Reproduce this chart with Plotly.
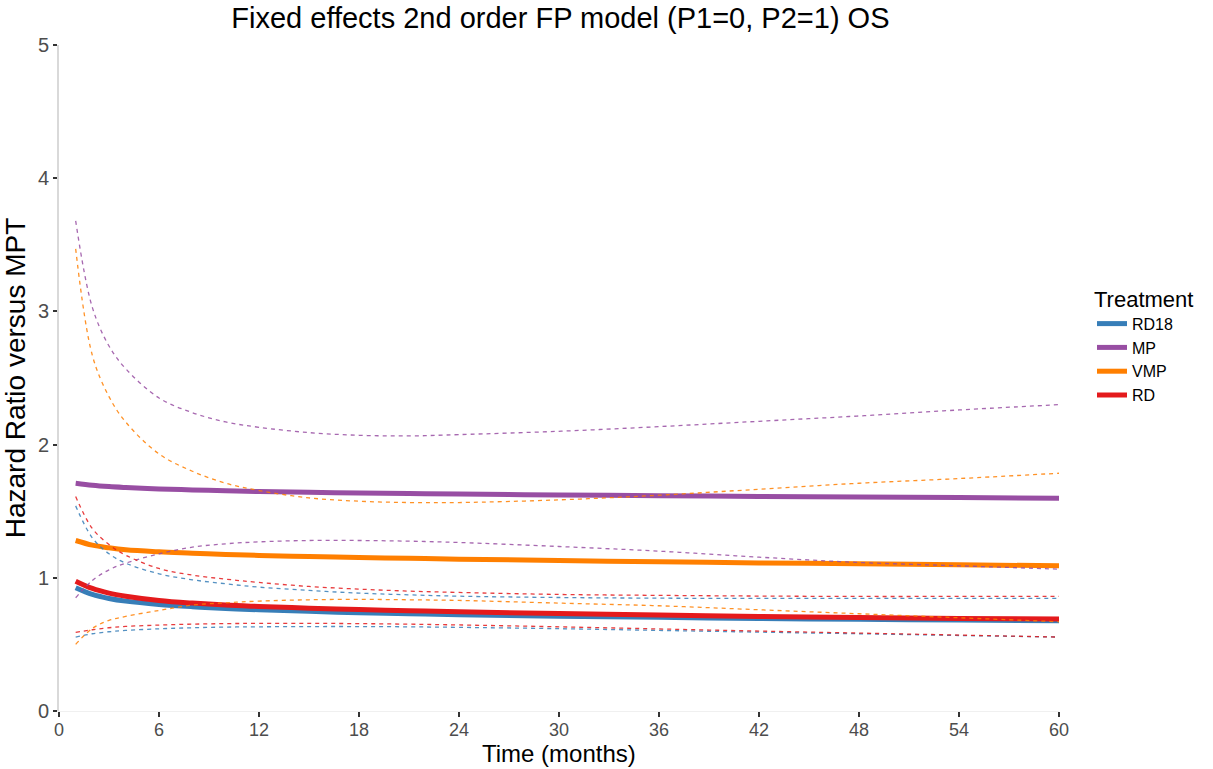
import plotly.graph_objects as go

# Follow-up times (months) at which the fitted hazard ratios are evaluated
months = [1, 2, 3, 4, 6, 8, 10, 12, 15, 18, 21, 24, 30, 36, 42, 48, 54, 60]

# Point estimates (HR versus MPT)
rd18_hr = [0.925, 0.875, 0.845, 0.825, 0.800, 0.783, 0.770, 0.760, 0.748, 0.738,
           0.730, 0.723, 0.712, 0.703, 0.695, 0.688, 0.683, 0.678]
mp_hr = [1.710, 1.695, 1.685, 1.678, 1.667, 1.660, 1.653, 1.648, 1.642, 1.637,
         1.633, 1.629, 1.622, 1.616, 1.611, 1.606, 1.602, 1.598]
vmp_hr = [1.280, 1.245, 1.225, 1.210, 1.195, 1.185, 1.175, 1.168, 1.160, 1.152,
          1.146, 1.140, 1.130, 1.120, 1.112, 1.105, 1.098, 1.090]
rd_hr = [0.975, 0.920, 0.885, 0.862, 0.830, 0.810, 0.795, 0.785, 0.772, 0.762,
         0.753, 0.745, 0.732, 0.720, 0.710, 0.702, 0.695, 0.690]

# 95% credible interval bounds
rd18_lo = [0.555, 0.580, 0.595, 0.605, 0.617, 0.625, 0.630, 0.632, 0.634, 0.634,
           0.632, 0.628, 0.618, 0.605, 0.592, 0.580, 0.567, 0.555]
rd18_hi = [1.540, 1.300, 1.180, 1.110, 1.030, 0.985, 0.955, 0.930, 0.905, 0.885,
           0.872, 0.862, 0.852, 0.847, 0.845, 0.845, 0.845, 0.845]
mp_lo = [0.850, 0.980, 1.060, 1.110, 1.180, 1.230, 1.255, 1.270, 1.280, 1.280,
         1.275, 1.265, 1.235, 1.200, 1.155, 1.115, 1.090, 1.065]
mp_hi = [3.680, 3.030, 2.740, 2.570, 2.350, 2.240, 2.170, 2.130, 2.090, 2.070,
         2.065, 2.075, 2.100, 2.135, 2.175, 2.215, 2.260, 2.300]
vmp_lo = [0.500, 0.620, 0.680, 0.710, 0.755, 0.795, 0.812, 0.825, 0.835, 0.838,
          0.835, 0.830, 0.810, 0.790, 0.760, 0.730, 0.700, 0.670]
vmp_hi = [3.470, 2.670, 2.360, 2.170, 1.930, 1.800, 1.710, 1.655, 1.600, 1.575,
          1.565, 1.565, 1.585, 1.620, 1.665, 1.710, 1.745, 1.785]
rd_lo = [0.590, 0.610, 0.625, 0.635, 0.645, 0.652, 0.656, 0.658, 0.658, 0.656,
         0.652, 0.646, 0.632, 0.616, 0.600, 0.585, 0.570, 0.555]
rd_hi = [1.610, 1.370, 1.250, 1.170, 1.070, 1.020, 0.990, 0.965, 0.935, 0.915,
         0.900, 0.890, 0.875, 0.868, 0.863, 0.860, 0.860, 0.860]

treatments = ["RD18", "MP", "VMP", "RD"]
colors = ["#377EB8", "#984EA3", "#FF7F00", "#E41A1C"]
estimates = [rd18_hr, mp_hr, vmp_hr, rd_hr]
lowers = [rd18_lo, mp_lo, vmp_lo, rd_lo]
uppers = [rd18_hi, mp_hi, vmp_hi, rd_hi]

x_ticks = [0, 6, 12, 18, 24, 30, 36, 42, 48, 54, 60]
y_ticks = [0, 1, 2, 3, 4, 5]

NARROW = "Liberation Sans Narrow, Arial Narrow, sans-serif"

fig = go.Figure()

# Thick solid lines: point estimates (these make up the legend)
for name, col, est in zip(treatments, colors, estimates):
    fig.add_trace(go.Scatter(
        x=months, y=est, mode="lines", name=name, legendgroup=name,
        line=dict(color=col, width=5, shape="spline"),
    ))

# Thin dashed lines: interval bounds
for name, col, lo, hi in zip(treatments, colors, lowers, uppers):
    for bound in (lo, hi):
        fig.add_trace(go.Scatter(
            x=months, y=bound, mode="lines", showlegend=False, legendgroup=name,
            opacity=0.85,
            line=dict(color=col, width=1.3, dash="4px,4px", shape="spline"),
        ))

fig.update_layout(
    width=1213, height=769,
    margin=dict(l=59, r=154, t=45, b=58, autoexpand=False),
    plot_bgcolor="white", paper_bgcolor="white",
    font=dict(family="Liberation Sans, Arial, sans-serif", color="#000000"),
    title=dict(
        text="Fixed effects 2nd order FP model (P1=0, P2=1) OS",
        x=0.462, xanchor="center", y=0.977, yanchor="middle",
        font=dict(size=29, color="#000000"),
    ),
    legend=dict(
        title=dict(text="Treatment", font=dict(size=22, color="#000000")),
        font=dict(size=16, color="#000000"),
        x=1.033, xanchor="left", y=0.650, yanchor="top",
        tracegroupgap=0, bgcolor="rgba(0,0,0,0)",
    ),
    xaxis=dict(
        range=[0, 60], tickvals=x_ticks, ticktext=[str(v) for v in x_ticks],
        showgrid=False, zeroline=False, automargin=False,
        showline=True, linecolor="#f0f0f0", linewidth=1,
        ticks="outside", ticklen=5, tickwidth=1.5, tickcolor="#333333",
        ticklabelstandoff=-3,
        tickfont=dict(family=NARROW, size=18, color="#4d4d4d"),
    ),
    yaxis=dict(
        range=[0, 5], tickvals=y_ticks, ticktext=[str(v) for v in y_ticks],
        showgrid=False, zeroline=False, automargin=False,
        showline=True, linecolor="#d9d9d9", linewidth=2,
        ticks="outside", ticklen=4, tickwidth=1.5, tickcolor="#333333",
        tickfont=dict(size=20, color="#4d4d4d"),
        title=dict(text="Hazard Ratio versus MPT", standoff=10,
                   font=dict(size=28, color="#000000")),
    ),
    annotations=[dict(
        text="Time (months)", xref="paper", yref="paper",
        x=0.5, y=-0.064, xanchor="center", yanchor="middle", showarrow=False,
        font=dict(family=NARROW, size=24, color="#000000"),
    )],
)

fig.write_html("out.html")
